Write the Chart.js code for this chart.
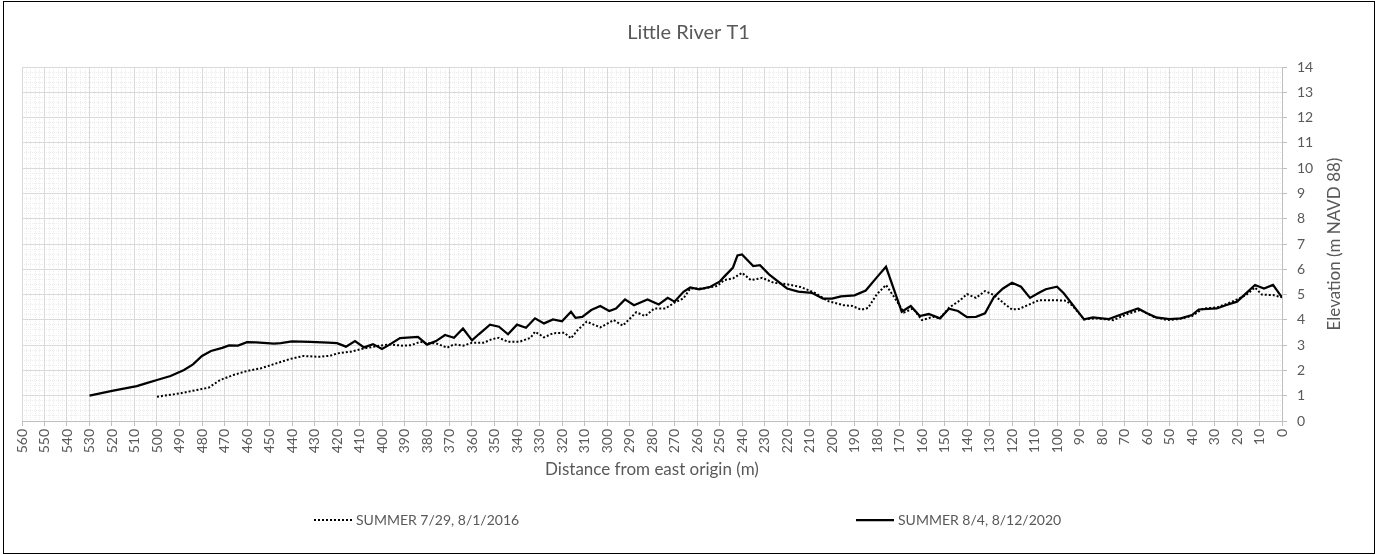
<!DOCTYPE html>
<html><head><meta charset="utf-8">
<script src="https://cdn.jsdelivr.net/npm/chart.js@4.4.1/dist/chart.umd.min.js"></script>
<style>
html,body{margin:0;padding:0;background:#fff;}
#wrap{position:relative;width:1377px;height:555px;overflow:hidden;}
#frame{position:absolute;left:3px;top:1px;width:1370px;height:551px;border:1px solid #000;pointer-events:none;}
canvas{position:absolute;left:0;top:0;}
</style></head><body>
<div id="wrap"><canvas id="c" width="1377" height="555"></canvas><div id="frame"></div></div>
<script>
const chartTitle = 'Little River T1';
const xTitle = 'Distance from east origin (m)';
const yTitle = 'Elevation (m NAVD 88)';
const label2016 = 'SUMMER 7/29, 8/1/2016';
const label2020 = 'SUMMER 8/4, 8/12/2020';

const dist2016 = [500,490,481,477,472,466,460,454,448,441,435,428,423,420,414,408,401,397,391,387,383,380,376,371,368,364,360,355,351,348,344,339,334,332,328,324,319,316,313,309,303,297,293,287,283,279,274,270,266,263,257,251,248,244,240,236,231,226,220,214,208,202,195,191,187,184,180,176,172,168,164,160,155,152,148,143,140,136,132,128,123,120,117,112,108,102,96,93,88,83,75,69,63,57,51,46,40,35,29,24,20,16,12,9,4,0];
const elev2016 = [0.96,1.09,1.25,1.32,1.62,1.82,1.98,2.08,2.25,2.45,2.57,2.54,2.58,2.67,2.74,2.87,2.98,3.03,2.98,3.00,3.13,3.07,3.07,2.90,3.03,2.98,3.09,3.09,3.24,3.29,3.13,3.13,3.29,3.53,3.31,3.47,3.49,3.27,3.60,3.93,3.70,3.99,3.77,4.30,4.15,4.45,4.45,4.68,4.85,5.24,5.24,5.34,5.57,5.64,5.86,5.57,5.66,5.47,5.41,5.30,5.09,4.75,4.58,4.55,4.40,4.47,5.02,5.38,4.85,4.29,4.45,3.99,4.12,4.06,4.48,4.78,5.02,4.87,5.14,4.98,4.61,4.41,4.43,4.62,4.78,4.78,4.76,4.55,4.02,4.06,3.99,4.22,4.39,4.12,3.99,4.03,4.15,4.45,4.49,4.65,4.81,4.98,5.28,5.00,4.98,4.89];

const dist2020 = [530,520,509,505,500,494,488,484,480,476,471,468,464,460,456,448,445,440,432,424,420,416,412,408,404,400,397,392,384,380,376,372,368,364,360,357,352,348,344,340,336,332,328,324,320,316,314,311,307,303,299,296,292,288,282,277,273,270,266,263,259,254,250,248,244,242,240,235,232,228,220,215,209,204,200,196,190,185,180,176,169,165,161,157,152,148,144,140,136,132,128,124,120,116,112,108,105,100,97,88,84,77,70,64,60,56,50,45,40,37,29,25,20,16,12,8,4,0];
const elev2020 = [1.00,1.19,1.38,1.49,1.62,1.78,2.02,2.24,2.57,2.77,2.89,2.99,2.98,3.12,3.11,3.06,3.08,3.15,3.13,3.10,3.08,2.94,3.16,2.91,3.04,2.85,3.00,3.28,3.33,3.02,3.16,3.40,3.29,3.66,3.19,3.43,3.81,3.73,3.43,3.81,3.69,4.06,3.86,4.02,3.94,4.32,4.08,4.12,4.39,4.55,4.35,4.45,4.81,4.58,4.81,4.61,4.87,4.72,5.11,5.28,5.21,5.31,5.51,5.70,6.07,6.55,6.59,6.13,6.16,5.80,5.24,5.12,5.07,4.84,4.84,4.93,4.97,5.16,5.69,6.10,4.32,4.55,4.15,4.23,4.06,4.44,4.35,4.11,4.12,4.26,4.91,5.24,5.47,5.31,4.87,5.07,5.21,5.31,5.05,4.02,4.10,4.03,4.26,4.45,4.26,4.10,4.03,4.06,4.19,4.41,4.45,4.58,4.72,5.05,5.38,5.24,5.38,4.89];

const xMin = 0, xMax = 560, xStep = 10, xMinorStep = 2;
const yMin = 0, yMax = 14, yStep = 1, yMinorStep = 0.2;

const TXT = '#595959';
const GRID_MAJOR = '#d9d9d9';
const GRID_MINOR = '#ececec';
const AXIS_LINE = '#bfbfbf';
const FONT = 'Lato';

const toPts = (xs, ys) => xs.map((x, i) => ({ x: x, y: ys[i] }));

const yTitlePlugin = {
  id: 'yTitleRot',
  afterDraw(chart) {
    const t = chart.options.scales.y.title;
    const { ctx, chartArea } = chart;
    ctx.save();
    ctx.font = '17px ' + FONT;
    ctx.fillStyle = TXT;
    ctx.textAlign = 'center';
    ctx.textBaseline = 'middle';
    ctx.translate(1335, (chartArea.top + chartArea.bottom) / 2);
    ctx.rotate(-Math.PI / 2);
    ctx.fillText(t.text, 0, 0);
    ctx.restore();
  }
};

const legendPlugin = {
  id: 'spreadLegend',
  afterDraw(chart) {
    const { ctx } = chart;
    const starts = [314, 856];
    const y = 520;
    chart.data.datasets.forEach((ds, i) => {
      const x0 = starts[i];
      ctx.save();
      ctx.strokeStyle = ds.borderColor;
      ctx.lineWidth = ds.borderWidth;
      ctx.setLineDash(ds.borderDash || []);
      ctx.beginPath();
      ctx.moveTo(x0, y);
      ctx.lineTo(x0 + 38, y);
      ctx.stroke();
      ctx.setLineDash([]);
      ctx.font = '14px ' + FONT;
      ctx.fillStyle = TXT;
      ctx.textAlign = 'left';
      ctx.textBaseline = 'middle';
      ctx.fillText(ds.label, x0 + 42, y);
      ctx.restore();
    });
  }
};

new Chart(document.getElementById('c'), {
  type: 'line',
  data: {
    datasets: [
      { label: label2016, data: toPts(dist2016, elev2016), xAxisID: 'x', yAxisID: 'y',
        borderColor: '#000', borderWidth: 2, borderDash: [2, 2], pointRadius: 0, tension: 0, fill: false },
      { label: label2020, data: toPts(dist2020, elev2020), xAxisID: 'x', yAxisID: 'y',
        borderColor: '#000', borderWidth: 2.25, pointRadius: 0, tension: 0, fill: false }
    ]
  },
  options: {
    responsive: false,
    animation: false,
    devicePixelRatio: 1,
    layout: { padding: { left: 0, right: 0, top: 0, bottom: 75 } },
    plugins: {
      legend: { display: false },
      tooltip: { enabled: false },
      title: {
        display: true, text: chartTitle, color: TXT,
        font: { family: FONT, size: 20, weight: 'normal', lineHeight: '22px' },
        padding: { top: 22, bottom: 23 }
      }
    },
    scales: {
      xMinor: {
        type: 'linear', axis: 'x', position: 'bottom', reverse: true, min: xMin, max: xMax,
        ticks: { display: false, stepSize: xMinorStep, autoSkip: false },
        grid: { color: GRID_MINOR, drawTicks: false, z: -2 },
        border: { display: false, dash: [1, 1] },
        afterFit(s) { s.height = 0; }
      },
      yMinor: {
        type: 'linear', axis: 'y', position: 'left', min: yMin, max: yMax,
        ticks: { display: false, stepSize: yMinorStep, autoSkip: false },
        grid: { color: GRID_MINOR, drawTicks: false, z: -2 },
        border: { display: false, dash: [1, 1] },
        afterFit(s) { s.width = 22; }
      },
      x: {
        type: 'linear', axis: 'x', position: 'bottom', reverse: true, min: xMin, max: xMax,
        ticks: { stepSize: xStep, autoSkip: false, minRotation: 90, maxRotation: 90,
                 color: TXT, font: { family: FONT, size: 14 }, padding: 3 },
        grid: { color: GRID_MAJOR, tickLength: 5, tickColor: AXIS_LINE },
        border: { color: AXIS_LINE },
        title: { display: true, text: xTitle, color: TXT, font: { family: FONT, size: 17 }, padding: { top: 0, bottom: 0 } },
        afterFit(s) { s.height = 59; }
      },
      y: {
        type: 'linear', axis: 'y', position: 'right', min: yMin, max: yMax,
        ticks: { stepSize: yStep, color: TXT, font: { family: FONT, size: 14 }, padding: 10 },
        grid: { color: GRID_MAJOR, tickLength: 5, tickColor: AXIS_LINE },
        border: { color: AXIS_LINE },
        title: { display: false, text: yTitle },
        afterFit(s) { s.width = 95; }
      }
    }
  },
  plugins: [yTitlePlugin, legendPlugin]
});
</script>
</body></html>
